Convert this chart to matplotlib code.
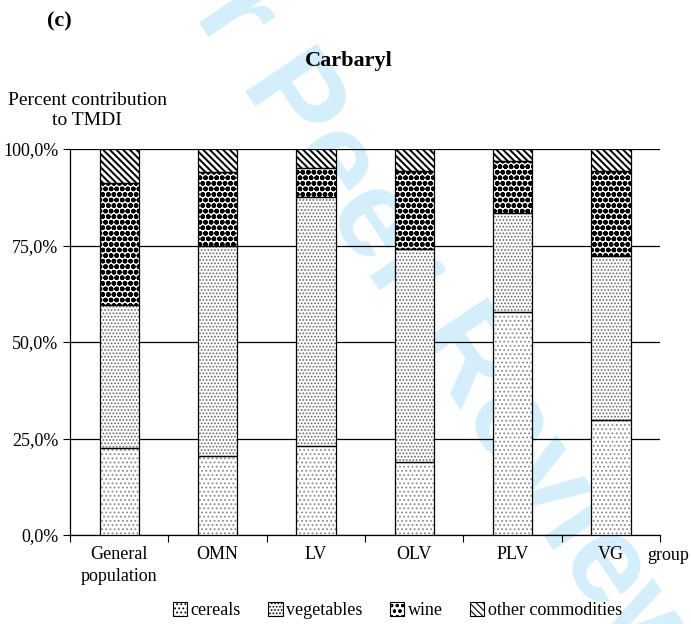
import numpy as np
import matplotlib
matplotlib.use('Agg')
import matplotlib.pyplot as plt
from matplotlib.patches import Patch

plt.rcParams['font.family'] = 'Liberation Serif'
plt.rcParams['font.size'] = 13
plt.rcParams['hatch.linewidth'] = 0.8

groups = ['General\npopulation', 'OMN', 'LV', 'OLV', 'PLV', 'VG']
cereals = [22.6, 20.4, 23.0, 19.0, 57.8, 29.8]
vegetables = [37.0, 54.6, 64.5, 55.0, 25.5, 42.5]
wine = [31.7, 19.1, 7.6, 20.3, 13.6, 22.0]
other = [8.7, 5.9, 4.9, 5.7, 3.1, 5.7]

# name, values, hatch, hatch colour, hatch linewidth
series = [('cereals', cereals, '....', '#8a8a8a', 0.8),
          ('vegetables', vegetables, '.....', '#666666', 0.8),
          ('wine', wine, 'ooo', 'black', 1.7),
          ('other commodities', other, '\\\\\\\\\\', 'black', 1.4)]

fig = plt.figure(figsize=(6.91, 6.24), dpi=100)
fig.text(0.588, 0.561, 'For Peer Review', color='#d4effb', fontsize=90,
         fontweight='bold', family='Liberation Sans', rotation=-56,
         rotation_mode='anchor', ha='center', va='center', zorder=-1)

ax = fig.add_axes([0.1013, 0.1426, 0.8539, 0.6186])
ax.patch.set_alpha(0)

x = np.arange(len(groups))
width = 0.4
bottom = np.zeros(len(groups))
handles = []
for name, vals, hatch, hc, hlw in series:
    vals = np.array(vals)
    with plt.rc_context({'hatch.linewidth': hlw}):
        ax.bar(x, vals, width, bottom=bottom, color='white', edgecolor=hc,
               hatch=hatch, linewidth=0, zorder=3)
        handles.append(Patch(facecolor='white', edgecolor='black', hatch=hatch,
                             linewidth=0.8, label=name))
    ax.bar(x, vals, width, bottom=bottom, fill=False, edgecolor='black',
           linewidth=0.9, zorder=4)
    bottom += vals

ax.set_xlim(-0.5, len(groups) - 0.5)
ax.set_ylim(0, 100)
ax.set_yticks([0, 25, 50, 75, 100])
ax.set_yticklabels(['0,0%', '25,0%', '50,0%', '75,0%', '100,0%'])
ax.yaxis.grid(True, color='black', linewidth=0.9, zorder=1)
ax.set_xticks(np.arange(len(groups) + 1) - 0.5)
ax.set_xticklabels([])
ax.set_xticks(x, minor=True)
ax.set_xticklabels(groups, minor=True)
for lbl in ax.get_xticklabels(minor=True):
    lbl.set_linespacing(1.35)
ax.tick_params(axis='x', which='minor', length=0, pad=8)
ax.tick_params(axis='x', which='major', length=5, color='black')
ax.tick_params(axis='y', length=5)
for s in ['top', 'right']:
    ax.spines[s].set_visible(False)
for s in ['left', 'bottom']:
    ax.spines[s].set_color('black')
    ax.spines[s].set_linewidth(0.9)

fig.text(0.068, 0.965, '(c)', fontweight='bold', fontsize=16, ha='left', va='center')
fig.text(0.504, 0.902, 'Carbaryl', fontweight='bold', fontsize=16, ha='center', va='center')
fig.text(0.126, 0.823, 'Percent contribution\nto TMDI', ha='center', va='center',
         fontsize=14, linespacing=1.2)
fig.text(0.937, 0.110, 'group', ha='left', va='center')

fig.legend(handles=handles, loc='center', bbox_to_anchor=(0.575, 0.021), ncol=4,
           frameon=False, handlelength=0.8, handleheight=0.8, handletextpad=0.2,
           columnspacing=1.5, fontsize=13)

fig.savefig('out.png', dpi=100)
